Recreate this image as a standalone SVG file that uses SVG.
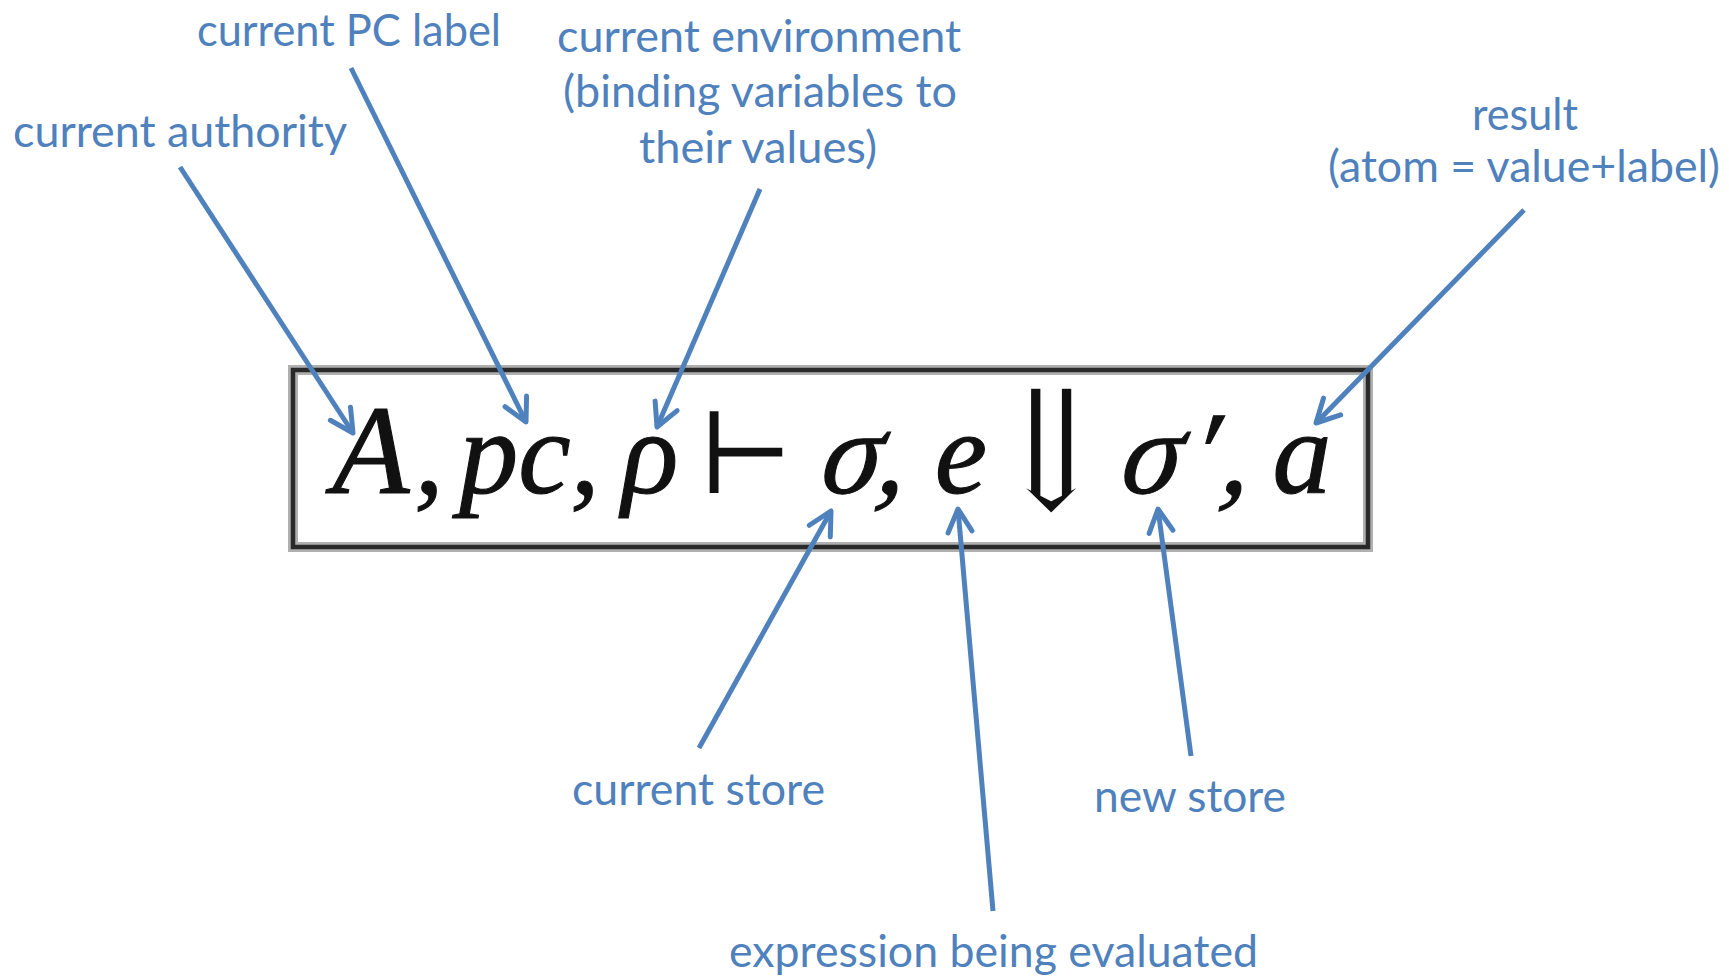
<svg xmlns="http://www.w3.org/2000/svg" width="1729" height="977" viewBox="0 0 1729 977">
<defs>
<style>
.lbl{font-family:Lato,"Open Sans","Liberation Sans",sans-serif;font-size:45px;fill:#4F81BD}
.mi{font-family:"Liberation Serif","DejaVu Serif",serif;font-style:italic;fill:#111;stroke:#111;stroke-width:1.1;text-anchor:middle}
.mu{font-family:"DejaVu Serif","Liberation Serif",serif;fill:#111;text-anchor:middle}
.arr{font-family:"DejaVu Serif","DejaVu Sans",serif;fill:#111;stroke:#fff;stroke-width:3;text-anchor:middle}
.conn{stroke:#4F81BD;stroke-width:5;fill:none;marker-end:url(#ah)}
</style>
<marker id="ah" markerUnits="userSpaceOnUse" viewBox="-30 -20 40 40" markerWidth="40" markerHeight="40" refX="0" refY="0" orient="auto">
<path d="M-23,-12 L0,0 L-23,12" fill="none" stroke="#4F81BD" stroke-width="5" stroke-linecap="round" stroke-linejoin="round"/>
</marker>
</defs>
<rect width="1729" height="977" fill="#fff"/>

<g id="formula">
<rect x="293" y="370" width="1075" height="177" fill="#fff" stroke="#b0b0b0" stroke-width="10"/>
<rect x="293" y="370" width="1075" height="177" fill="none" stroke="#2a2a2a" stroke-width="4.5"/>
<text class="mi" font-size="118" y="493"><tspan x="371" font-size="126">A</tspan><tspan x="429">,</tspan><tspan x="515">pc</tspan><tspan x="585">,</tspan><tspan x="650">ρ</tspan></text>
<text class="mu" x="746" y="493" font-size="112">⊢</text>
<text class="mi" transform="translate(847,493) skewX(-10)" y="0" font-size="118"><tspan x="0">σ</tspan><tspan x="42">,</tspan></text>
<text class="mi" x="961" y="493" font-size="118">e</text>
<text class="arr" transform="translate(1051,512) scale(1.6,1.55)" x="0" y="0" font-size="112">⇓</text>
<text class="mi" transform="translate(1147,493) skewX(-10)" y="0" font-size="118"><tspan x="0">σ</tspan><tspan x="50">′</tspan><tspan x="86">,</tspan></text>
<text class="mi" x="1302" y="493" font-size="118">a</text>
</g>

<g id="label-authority"><text class="lbl" x="13" y="147" textLength="334" lengthAdjust="spacingAndGlyphs">current authority</text></g>
<g id="label-pc"><text class="lbl" x="197" y="46" textLength="304" lengthAdjust="spacingAndGlyphs">current PC label</text></g>
<g id="label-env">
<text class="lbl" x="557" y="52" textLength="404" lengthAdjust="spacingAndGlyphs">current environment</text>
<text class="lbl" x="563" y="107" textLength="394" lengthAdjust="spacingAndGlyphs">(binding variables to</text>
<text class="lbl" x="639" y="163" textLength="238" lengthAdjust="spacingAndGlyphs">their values)</text>
</g>
<g id="label-result">
<text class="lbl" x="1472" y="130" textLength="106" lengthAdjust="spacingAndGlyphs">result</text>
<text class="lbl" x="1328" y="182" textLength="392" lengthAdjust="spacingAndGlyphs">(atom = value+label)</text>
</g>
<g id="label-store"><text class="lbl" x="572" y="805" textLength="253" lengthAdjust="spacingAndGlyphs">current store</text></g>
<g id="label-newstore"><text class="lbl" x="1094" y="812" textLength="192" lengthAdjust="spacingAndGlyphs">new store</text></g>
<g id="label-expr"><text class="lbl" x="729" y="967" textLength="529" lengthAdjust="spacingAndGlyphs">expression being evaluated</text></g>

<g id="connectors">
<line class="conn" x1="180" y1="167" x2="353" y2="433"/>
<line class="conn" x1="351" y1="68" x2="526" y2="422"/>
<line class="conn" x1="760" y1="189" x2="657" y2="427"/>
<line class="conn" x1="1524" y1="210" x2="1316" y2="423"/>
<line class="conn" x1="699" y1="748" x2="831" y2="511"/>
<line class="conn" x1="993" y1="911" x2="958" y2="509"/>
<line class="conn" x1="1191" y1="756" x2="1158" y2="509"/>
</g>
</svg>
